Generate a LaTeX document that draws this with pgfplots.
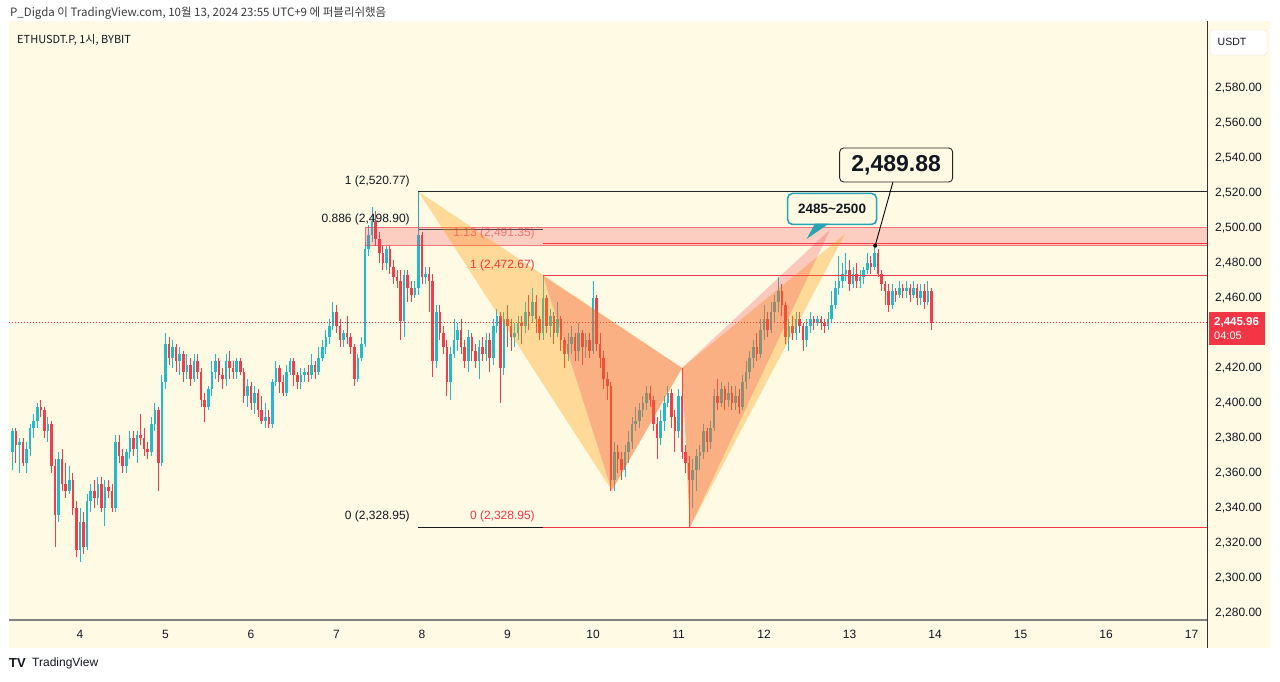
\documentclass[border=0pt]{standalone}
\usepackage{pgfplots}
\pgfplotsset{compat=1.18}
\usepackage{pgfplotstable}
\usepackage{fontspec}
\setmainfont{Liberation Sans}
\newfontfamily\kr{Noto Sans CJK KR}
\definecolor{bg}{RGB}{255,250,228}
\definecolor{upc}{RGB}{34,187,204}
\definecolor{dnc}{RGB}{240,62,74}
\definecolor{tvred}{RGB}{242,54,69}
\definecolor{tvteal}{RGB}{38,166,180}
\definecolor{txt}{RGB}{19,23,34}
\definecolor{txt2}{RGB}{60,60,60}
\definecolor{axg}{RGB}{130,130,130}
\definecolor{orng}{RGB}{255,152,0}

\pgfplotstableread{
t o hi lo c
-19 2372 2386 2362 2384
-18 2384 2386 2366 2376
-17 2376 2380 2360 2378
-16 2378 2380 2364 2366
-15 2366 2378 2360 2374
-14 2374 2388 2370 2386
-13 2386 2394 2380 2390
-12 2390 2400 2386 2398
-11 2398 2402 2392 2396
-10 2396 2398 2380 2384
-9 2384 2392 2378 2388
-8 2388 2390 2360 2364
-7 2364 2368 2318 2336
-6 2336 2372 2332 2368
-5 2368 2374 2350 2354
-4 2354 2366 2346 2350
-3 2350 2364 2348 2356
-2 2356 2360 2336 2340
-1 2340 2344 2312 2316
0 2316 2340 2309 2332
1 2332 2338 2314 2318
2 2318 2348 2316 2344
3 2344 2354 2338 2350
4 2350 2356 2340 2346
5 2346 2358 2342 2354
6 2354 2358 2338 2340
7 2340 2356 2330 2352
8 2352 2356 2346 2350
9 2350 2354 2338 2340
10 2340 2382 2338 2378
11 2378 2382 2366 2370
12 2370 2374 2360 2364
13 2364 2374 2360 2372
14 2372 2384 2368 2380
15 2380 2384 2370 2374
16 2374 2384 2366 2382
17 2382 2394 2376 2380
18 2380 2386 2370 2374
19 2374 2378 2368 2372
20 2372 2392 2370 2388
21 2388 2400 2384 2396
22 2396 2398 2350 2366
23 2366 2416 2364 2412
24 2412 2440 2408 2434
25 2434 2438 2422 2426
26 2426 2436 2420 2432
27 2432 2434 2418 2424
28 2424 2432 2416 2428
29 2428 2430 2412 2418
30 2418 2428 2414 2422
31 2422 2426 2410 2414
32 2414 2428 2412 2424
33 2424 2428 2414 2418
34 2418 2420 2398 2402
35 2402 2406 2389 2398
36 2398 2410 2396 2408
37 2408 2424 2404 2418
38 2418 2428 2414 2424
39 2424 2426 2412 2416
40 2416 2420 2408 2414
41 2414 2428 2410 2424
42 2424 2430 2414 2420
43 2420 2424 2414 2418
44 2418 2426 2414 2424
45 2424 2426 2416 2418
46 2418 2420 2400 2404
47 2404 2414 2398 2410
48 2410 2412 2396 2400
49 2400 2410 2394 2406
50 2406 2408 2392 2396
51 2396 2404 2388 2390
52 2390 2400 2386 2392
53 2392 2396 2386 2388
54 2388 2414 2386 2412
55 2412 2424 2410 2420
56 2420 2422 2406 2412
57 2412 2416 2404 2406
58 2406 2422 2404 2418
59 2418 2426 2416 2424
60 2424 2426 2410 2416
61 2416 2418 2408 2412
62 2412 2420 2408 2416
63 2416 2420 2412 2418
64 2418 2422 2412 2416
65 2416 2428 2414 2422
66 2422 2424 2414 2418
67 2418 2432 2416 2426
68 2426 2436 2424 2432
69 2432 2442 2428 2438
70 2438 2448 2434 2444
71 2444 2458 2442 2452
72 2452 2456 2440 2444
73 2444 2448 2432 2436
74 2436 2442 2432 2440
75 2440 2450 2434 2438
76 2438 2440 2428 2432
77 2432 2434 2410 2414
78 2414 2428 2412 2426
79 2426 2438 2424 2434
80 2434 2492 2432 2488
81 2488 2502 2484 2496
82 2496 2512 2492 2504
83 2504 2510 2490 2494
84 2494 2498 2480 2486
85 2486 2490 2476 2480
86 2480 2490 2476 2488
87 2488 2490 2474 2478
88 2478 2482 2468 2472
89 2472 2476 2466 2470
90 2470 2476 2436 2447
91 2447 2476 2438 2473
92 2473 2476 2458 2466
93 2466 2470 2458 2462
94 2462 2470 2460 2466
95 2466 2498.9 2462 2496
96 2496 2498 2468 2472
97 2472 2478 2468 2474
98 2474 2478 2452 2470
99 2470 2474 2415 2424
100 2424 2456 2420 2452
101 2452 2456 2436 2440
102 2440 2444 2428 2432
103 2432 2436 2404 2412
104 2412 2432 2402 2428
105 2428 2448 2426 2436
106 2436 2446 2430 2442
107 2442 2448 2428 2432
108 2432 2436 2420 2424
109 2424 2442 2418 2438
110 2438 2440 2424 2430
111 2430 2434 2420 2424
112 2424 2436 2414 2432
113 2432 2438 2424 2428
114 2428 2440 2424 2436
115 2436 2440 2418 2426
116 2426 2448 2422 2444
117 2444 2454 2440 2450
118 2450 2452 2400 2420
119 2420 2452 2416 2448
120 2448 2456 2432 2444
121 2444 2448 2430 2438
122 2438 2446 2432 2440
123 2440 2450 2436 2446
124 2446 2450 2434 2444
125 2444 2458 2440 2452
126 2452 2462 2442 2450
127 2450 2466 2446 2458
128 2458 2462 2440 2448
129 2448 2450 2436 2440
130 2440 2472.67 2436 2460
131 2460 2462 2440 2444
132 2444 2454 2438 2450
133 2450 2452 2434 2440
134 2440 2458 2438 2448
135 2448 2450 2430 2436
136 2436 2438 2420 2428
137 2428 2440 2424 2434
138 2434 2444 2428 2438
139 2438 2440 2424 2430
140 2430 2446 2424 2440
141 2440 2442 2422 2432
142 2432 2440 2426 2436
143 2436 2440 2426 2430
144 2430 2470 2428 2460
145 2460 2462 2430 2434
146 2434 2440 2420 2426
147 2426 2430 2408 2414
148 2414 2418 2402 2410
149 2410 2412 2350 2356
150 2356 2378 2350 2372
151 2372 2376 2360 2368
152 2368 2372 2356 2362
153 2362 2376 2358 2372
154 2372 2384 2366 2378
155 2378 2392 2374 2388
156 2388 2398 2384 2390
157 2390 2400 2386 2396
158 2396 2404 2392 2400
159 2400 2410 2396 2406
160 2406 2410 2398 2402
161 2402 2404 2384 2388
162 2388 2392 2368 2380
163 2380 2396 2376 2390
164 2390 2404 2384 2400
165 2400 2410 2398 2406
166 2406 2408 2386 2392
167 2392 2396 2372 2384
168 2384 2408 2380 2404
169 2404 2420 2368 2372
170 2372 2376 2360 2366
171 2366 2370 2328.95 2356
172 2356 2368 2340 2362
173 2362 2374 2350 2370
174 2370 2376 2362 2372
175 2372 2388 2368 2384
176 2384 2386 2372 2378
177 2378 2390 2374 2386
178 2386 2408 2384 2404
179 2404 2414 2396 2400
180 2400 2412 2398 2408
181 2408 2410 2396 2402
182 2402 2412 2398 2406
183 2406 2410 2396 2400
184 2400 2410 2396 2404
185 2404 2408 2394 2398
186 2398 2416 2396 2412
187 2412 2424 2408 2418
188 2418 2430 2414 2426
189 2426 2436 2420 2432
190 2432 2440 2424 2428
191 2428 2448 2426 2442
192 2442 2456 2436 2448
193 2448 2452 2438 2442
194 2442 2458 2440 2452
195 2452 2462 2446 2458
196 2458 2472 2452 2464
197 2464 2468 2450 2456
198 2456 2458 2434 2438
199 2438 2448 2430 2444
200 2444 2450 2436 2440
201 2440 2452 2436 2448
202 2448 2452 2440 2444
203 2444 2446 2430 2436
204 2436 2448 2432 2444
205 2444 2452 2440 2448
206 2448 2450 2442 2446
207 2446 2450 2444 2448
208 2448 2450 2442 2446
209 2446 2448 2440 2444
210 2444 2452 2442 2448
211 2448 2464 2446 2456
212 2456 2470 2454 2466
213 2466 2484 2462 2470
214 2470 2480 2466 2474
215 2474 2486 2470 2476
216 2476 2482 2464 2468
217 2468 2478 2466 2474
218 2474 2480 2466 2470
219 2470 2476 2466 2472
220 2472 2478 2468 2476
221 2476 2486 2474 2480
222 2480 2484 2474 2478
223 2478 2489.88 2476 2486
224 2486 2488 2472 2474
225 2474 2476 2464 2468
226 2468 2470 2456 2464
227 2464 2468 2452 2456
228 2456 2468 2454 2464
229 2464 2466 2458 2462
230 2462 2470 2460 2466
231 2466 2468 2460 2464
232 2464 2470 2460 2466
233 2466 2468 2458 2462
234 2462 2470 2460 2466
235 2466 2468 2456 2460
236 2460 2468 2456 2464
237 2464 2468 2454 2458
238 2458 2470 2456 2464
239 2464 2466 2442 2445.96
}\candles

\begin{document}
\begin{tikzpicture}[x=1pt,y=1pt]
\path[use as bounding box] (0,0) rectangle (1280,681);
\fill[white] (0,0) rectangle (1280,681);
\fill[bg] (9,33) rectangle (1270,660);
\node[anchor=west, inner sep=0pt, text=txt2, font=\kr\fontsize{11.5}{13}\selectfont] at (10,668) {P\_Digda 이 TradingView.com, 10월 13, 2024 23:55 UTC+9 에 퍼블리쉬했음};
\begin{axis}[
  at={(9pt,61pt)}, anchor=south west, scale only axis,
  width=1198pt, height=599pt,
  xmin=-19.93, xmax=316.35, ymin=2276, ymax=2618.29,
  axis line style={draw=none}, major tick length=0pt,
  xtick={0,24,48,72,96,120,144,168,192,216,240,264,288,312},
  xticklabels={4,5,6,7,8,9,10,11,12,13,14,15,16,17},
  xticklabel style={anchor=center, yshift=-14pt, inner sep=0pt, font=\fontsize{12}{14}\selectfont, text=txt},
  ytick={2280,2300,2320,2340,2360,2380,2400,2420,2460,2480,2500,2520,2540,2560,2580},
  yticklabel pos=right,
  yticklabel style={anchor=west, inner sep=0pt, xshift=8pt, font=\fontsize{12}{14}\selectfont, text=txt},
  yticklabel={\pgfmathprintnumber[fixed,fixed zerofill,precision=2,1000 sep={,},assume math mode=true]{\tick}},
  clip=true,
]
% wicks
\addplot[draw=none, mark=none, forget plot, error bars/.cd, y dir=both, y explicit, error mark=none,
  error bar style={line width=0.9pt, draw=upc}]
  table[x expr={\thisrow{t}+1000*(\thisrow{c}<\thisrow{o})}, y expr={(\thisrow{hi}+\thisrow{lo})/2}, y error expr={(\thisrow{hi}-\thisrow{lo})/2}]{\candles};
\addplot[draw=none, mark=none, forget plot, error bars/.cd, y dir=both, y explicit, error mark=none,
  error bar style={line width=0.9pt, draw=dnc}]
  table[x expr={\thisrow{t}+1000*(\thisrow{c}>=\thisrow{o})}, y expr={(\thisrow{hi}+\thisrow{lo})/2}, y error expr={(\thisrow{hi}-\thisrow{lo})/2}]{\candles};
% bodies
\addplot[draw=none, mark=none, forget plot, error bars/.cd, y dir=both, y explicit, error mark=none,
  error bar style={line width=2.6pt, draw=upc}]
  table[x expr={\thisrow{t}+1000*(\thisrow{c}<\thisrow{o})}, y expr={(\thisrow{o}+\thisrow{c})/2}, y error expr={max(abs(\thisrow{c}-\thisrow{o})/2,0.35)}]{\candles};
\addplot[draw=none, mark=none, forget plot, error bars/.cd, y dir=both, y explicit, error mark=none,
  error bar style={line width=2.6pt, draw=dnc}]
  table[x expr={\thisrow{t}+1000*(\thisrow{c}>=\thisrow{o})}, y expr={(\thisrow{o}+\thisrow{c})/2}, y error expr={max(abs(\thisrow{c}-\thisrow{o})/2,0.35)}]{\candles};

% current price dotted line
\draw[tvred, line width=0.8pt, dash pattern=on 1pt off 2pt] (-20,2445.96) -- (320,2445.96);
% pink zone
\fill[tvred, opacity=0.22] (80,2490) rectangle (330,2500.5);
\draw[tvred, opacity=0.6, line width=0.8pt] (80,2490) rectangle (330,2500.5);
% fib 1
\draw[black!85, line width=0.9pt] (95,2520.77) -- (330,2520.77);
\draw[black!70, line width=0.9pt] (95,2498.9) -- (130,2498.9);
\draw[black!90, line width=0.9pt] (95,2328.95) -- (130,2328.95);
\draw[tvteal, line width=0.9pt] (95,2520.77) -- (95,2498.9);
% fib 2
\draw[tvred, line width=0.9pt] (130,2472.67) -- (330,2472.67);
\draw[tvred, line width=0.9pt] (130,2491.35) -- (330,2491.35);
\draw[tvred, line width=0.9pt] (130,2328.95) -- (330,2328.95);
% pattern 1 (light orange)
\fill[orng, opacity=0.33] (95,2520.77) -- (149.3,2350) -- (169,2420) -- cycle;
\fill[orng, opacity=0.33] (169,2420) -- (171.2,2328.95) -- (214.7,2496.5) -- cycle;
% pattern 2 (red/pink)
\fill[tvred, opacity=0.25] (130,2472.67) -- (149.3,2350) -- (169,2420) -- cycle;
\fill[tvred, opacity=0.25] (169,2420) -- (171.2,2328.95) -- (210.5,2499) -- cycle;
% fib labels
\node[anchor=east, inner sep=0pt, text=txt, font=\fontsize{12}{14}\selectfont] at (92.6,2526.9) {1 (2,520.77)};
\node[anchor=east, inner sep=0pt, text=txt, font=\fontsize{12}{14}\selectfont] at (92.6,2505.1) {0.886 (2,498.90)};
\node[anchor=east, inner sep=0pt, text=txt, font=\fontsize{12}{14}\selectfont] at (92.6,2335.4) {0 (2,328.95)};
\node[anchor=east, inner sep=0pt, text=tvred, font=\fontsize{12}{14}\selectfont] at (127.7,2478.9) {1 (2,472.67)};
\node[anchor=east, inner sep=0pt, text=tvred, opacity=0.6, font=\fontsize{12}{14}\selectfont] at (127.7,2497.1) {1.13 (2,491.35)};
\node[anchor=east, inner sep=0pt, text=tvred, font=\fontsize{12}{14}\selectfont] at (127.7,2335.4) {0 (2,328.95)};
% callout 2485~2500
\node[draw=tvteal, line width=1.6pt, rounded corners=5pt, fill=bg, minimum width=89pt, minimum height=31pt, inner sep=0pt, font=\bfseries\fontsize{13.5}{15}\selectfont, text=txt] at (211.1,2510.9) {2485\textasciitilde2500};
\fill[tvteal] (206.3,2502.5) -- (210.2,2502.5) -- (204.0,2493.8) -- cycle;
% callout 2,489.88
\draw[black, line width=0.9pt] (228.2,2526.3) -- (223.2,2489.88);
\fill[black] (223.2,2489.88) circle (2pt);
\node[draw=black!85, line width=0.9pt, rounded corners=4pt, fill=bg, minimum width=113pt, minimum height=34pt, inner sep=0pt, font=\bfseries\fontsize{23}{25}\selectfont, text=txt] at (229.1,2536) {2,489.88};
\end{axis}
% axis lines
\draw[axg, line width=2pt] (9,61) -- (1207,61);
\draw[black!80, line width=0.8pt] (1207,33) -- (1207,660);
% symbol
\node[anchor=west, inner sep=0pt, text=txt, font=\kr\fontsize{11}{13}\selectfont] at (17,641) {ETHUSDT.P, 1시, BYBIT};
% price label
\fill[tvred] (1209,336) rectangle (1265,369);
\node[anchor=west, inner sep=0pt, text=white, font=\bfseries\fontsize{11.5}{13}\selectfont] at (1214,359) {2,445.96};
\node[anchor=west, inner sep=0pt, text=white, font=\fontsize{11}{13}\selectfont] at (1214,345) {04:05};
% USDT box
\filldraw[fill=white, draw=black!12, rounded corners=3pt] (1210,626) rectangle (1267,651);
\node[inner sep=0pt, text=txt, font=\fontsize{10.5}{12}\selectfont] at (1232,639) {USDT};
% footer
\node[anchor=west, inner sep=0pt, text=txt, font=\bfseries\fontsize{13}{14}\selectfont] at (9,18) {TV};
\node[anchor=west, inner sep=0pt, text=txt, font=\fontsize{12}{14}\selectfont] at (32,18) {TradingView};
\end{tikzpicture}
\end{document}
